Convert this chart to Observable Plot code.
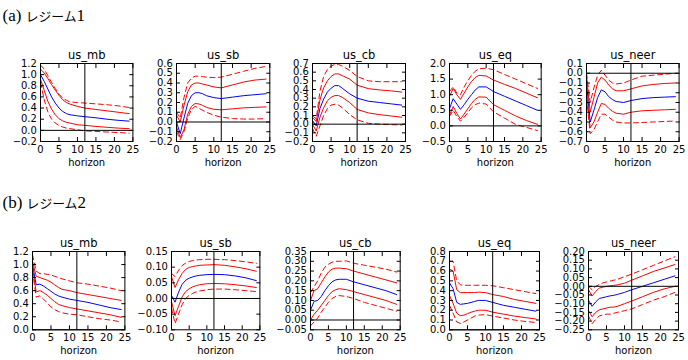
<!DOCTYPE html>
<html><head><meta charset="utf-8">
<script src="https://cdn.jsdelivr.net/npm/d3@7"></script>
<script src="https://cdn.jsdelivr.net/npm/@observablehq/plot@0.6"></script>
<style>
body{margin:0;background:#fff;}
#root{position:relative;width:688px;height:360px;overflow:hidden;background:#fff;}
#root svg{position:absolute;overflow:visible;}
</style></head><body>
<div id="root"></div>
<script>
// ---------- data ----------
const horizons = [0,1,2,3,4,5,6,7,8,10,12,15,18,21,24];
const xTicks = [0,5,10,15,20,25];
const shockH = 12;
const varNames = ["us_mb","us_sb","us_cb","us_eq","us_neer"];
const sectionTitles = ["(a) ", "レジーム", "1", "(b) ", "レジーム", "2"];

// Regime 1
const r1_mb_med   = [1.00,0.88,0.74,0.60,0.49,0.40,0.34,0.30,0.28,0.26,0.245,0.225,0.20,0.18,0.165];
const r1_mb_inHi  = [1.10,1.03,0.93,0.82,0.72,0.63,0.55,0.50,0.47,0.43,0.40,0.375,0.35,0.325,0.30];
const r1_mb_inLo  = [0.92,0.72,0.52,0.38,0.28,0.21,0.17,0.145,0.13,0.10,0.09,0.07,0.055,0.04,0.03];
const r1_mb_outHi = [1.17,1.10,0.98,0.86,0.75,0.65,0.58,0.54,0.51,0.50,0.49,0.475,0.46,0.44,0.41];
const r1_mb_outLo = [0.86,0.55,0.33,0.20,0.13,0.09,0.06,0.04,0.03,0.01,-0.01,-0.02,-0.03,-0.04,-0.05];
const r1_mb_yTicks = [-0.2,0,0.2,0.4,0.6,0.8,1.0,1.2];

const r1_sb_med   = [0.00,-0.12,0.04,0.19,0.27,0.30,0.30,0.29,0.27,0.25,0.24,0.255,0.27,0.28,0.29];
const r1_sb_inHi  = [0.07,0.00,0.17,0.31,0.38,0.40,0.40,0.39,0.38,0.36,0.35,0.38,0.41,0.43,0.44];
const r1_sb_inLo  = [-0.05,-0.16,-0.08,0.08,0.16,0.19,0.185,0.17,0.15,0.13,0.125,0.135,0.145,0.15,0.155];
const r1_sb_outHi = [0.10,0.04,0.25,0.40,0.45,0.47,0.47,0.465,0.46,0.455,0.46,0.49,0.52,0.55,0.57];
const r1_sb_outLo = [-0.10,-0.18,-0.10,0.04,0.13,0.16,0.14,0.12,0.10,0.07,0.05,0.035,0.03,0.03,0.035];
const r1_sb_yTicks = [-0.2,-0.1,0,0.1,0.2,0.3,0.4,0.5,0.6];

const r1_cb_med   = [0.04,-0.02,0.18,0.29,0.37,0.415,0.445,0.445,0.415,0.35,0.30,0.265,0.25,0.235,0.22];
const r1_cb_inHi  = [0.08,0.03,0.28,0.42,0.50,0.55,0.58,0.58,0.56,0.52,0.45,0.41,0.395,0.385,0.37];
const r1_cb_inLo  = [0.00,-0.08,0.08,0.19,0.27,0.31,0.33,0.33,0.31,0.25,0.17,0.13,0.11,0.095,0.08];
const r1_cb_outHi = [0.10,0.06,0.38,0.55,0.63,0.67,0.69,0.69,0.67,0.62,0.55,0.50,0.49,0.49,0.49];
const r1_cb_outLo = [-0.05,-0.14,-0.02,0.10,0.18,0.22,0.23,0.22,0.19,0.11,0.05,0.01,0.00,-0.005,-0.01];
const r1_cb_yTicks = [-0.2,-0.1,0,0.1,0.2,0.3,0.4,0.5,0.6,0.7];

const r1_eq_med   = [0.55,0.87,0.70,0.53,0.68,0.85,1.00,1.15,1.25,1.25,1.10,0.95,0.80,0.65,0.50];
const r1_eq_inHi  = [0.95,1.20,1.00,0.85,1.05,1.25,1.42,1.55,1.62,1.60,1.47,1.33,1.20,1.05,0.90];
const r1_eq_inLo  = [0.35,0.62,0.40,0.22,0.38,0.55,0.72,0.85,0.93,0.92,0.68,0.50,0.32,0.17,0.05];
const r1_eq_outHi = [1.10,1.25,1.05,1.00,1.25,1.45,1.62,1.75,1.83,1.85,1.80,1.65,1.50,1.35,1.20];
const r1_eq_outLo = [0.30,0.50,0.30,0.15,0.28,0.42,0.58,0.68,0.73,0.70,0.45,0.25,0.05,-0.05,-0.15];
const r1_eq_yTicks = [-0.5,0,0.5,1.0,1.5,2.0];

const r1_neer_med   = [-0.10,-0.50,-0.38,-0.25,-0.17,-0.19,-0.24,-0.27,-0.29,-0.30,-0.28,-0.26,-0.25,-0.245,-0.24];
const r1_neer_inHi  = [-0.02,-0.40,-0.25,-0.10,-0.04,-0.07,-0.12,-0.16,-0.18,-0.18,-0.16,-0.13,-0.115,-0.105,-0.10];
const r1_neer_inLo  = [-0.20,-0.56,-0.50,-0.40,-0.31,-0.32,-0.36,-0.39,-0.41,-0.42,-0.40,-0.385,-0.38,-0.375,-0.37];
const r1_neer_outHi = [0.00,-0.30,-0.15,-0.02,0.03,-0.02,-0.07,-0.10,-0.11,-0.10,-0.07,-0.03,-0.02,-0.01,0.00];
const r1_neer_outLo = [-0.25,-0.62,-0.58,-0.50,-0.42,-0.42,-0.45,-0.48,-0.50,-0.51,-0.51,-0.505,-0.50,-0.495,-0.49];
const r1_neer_yTicks = [-0.7,-0.6,-0.5,-0.4,-0.3,-0.2,-0.1,0,0.1];

// Regime 2
const r2_mb_med   = [1.00,0.69,0.70,0.67,0.63,0.59,0.55,0.52,0.50,0.47,0.45,0.42,0.38,0.34,0.31];
const r2_mb_inHi  = [1.05,0.82,0.80,0.78,0.76,0.73,0.69,0.65,0.62,0.60,0.57,0.54,0.51,0.48,0.45];
const r2_mb_inLo  = [0.95,0.58,0.60,0.57,0.53,0.48,0.43,0.39,0.37,0.34,0.32,0.29,0.26,0.23,0.19];
const r2_mb_outHi = [1.15,0.90,0.86,0.86,0.85,0.84,0.82,0.80,0.78,0.75,0.72,0.70,0.67,0.64,0.60];
const r2_mb_outLo = [0.90,0.50,0.52,0.47,0.41,0.35,0.31,0.28,0.26,0.24,0.23,0.20,0.17,0.15,0.12];
const r2_mb_yTicks = [0,0.2,0.4,0.6,0.8,1.0,1.2];

const r2_sb_med   = [0.010,-0.012,0.020,0.045,0.058,0.065,0.069,0.072,0.074,0.076,0.077,0.076,0.072,0.066,0.057];
const r2_sb_inHi  = [0.070,0.035,0.060,0.080,0.093,0.099,0.102,0.104,0.106,0.107,0.108,0.106,0.101,0.095,0.087];
const r2_sb_inLo  = [-0.010,-0.055,-0.025,0.005,0.022,0.031,0.037,0.041,0.044,0.047,0.048,0.047,0.044,0.040,0.035];
const r2_sb_outHi = [0.080,0.070,0.090,0.105,0.113,0.118,0.121,0.123,0.124,0.125,0.125,0.124,0.121,0.117,0.112];
const r2_sb_outLo = [-0.030,-0.080,-0.050,-0.020,0.000,0.010,0.016,0.021,0.024,0.028,0.030,0.030,0.028,0.025,0.022];
const r2_sb_yTicks = [-0.10,-0.05,0,0.05,0.10,0.15];

const r2_cb_med   = [0.050,0.095,0.100,0.120,0.150,0.175,0.195,0.205,0.208,0.208,0.195,0.180,0.165,0.150,0.130];
const r2_cb_inHi  = [0.100,0.150,0.160,0.190,0.220,0.245,0.260,0.265,0.265,0.262,0.250,0.235,0.220,0.205,0.190];
const r2_cb_inLo  = [0.000,0.030,0.050,0.075,0.100,0.125,0.145,0.155,0.160,0.155,0.145,0.130,0.115,0.100,0.080];
const r2_cb_outHi = [0.140,0.170,0.200,0.240,0.270,0.285,0.295,0.300,0.300,0.302,0.290,0.280,0.270,0.260,0.245];
const r2_cb_outLo = [-0.030,-0.010,0.010,0.040,0.065,0.090,0.110,0.120,0.125,0.120,0.110,0.090,0.075,0.060,0.045];
const r2_cb_yTicks = [-0.05,0,0.05,0.10,0.15,0.20,0.25,0.30,0.35];

const r2_eq_med   = [0.48,0.42,0.28,0.26,0.265,0.27,0.28,0.29,0.30,0.30,0.28,0.25,0.23,0.21,0.19];
const r2_eq_inHi  = [0.62,0.60,0.41,0.38,0.38,0.38,0.38,0.38,0.385,0.38,0.36,0.34,0.31,0.29,0.27];
const r2_eq_inLo  = [0.35,0.27,0.17,0.145,0.15,0.165,0.18,0.19,0.20,0.20,0.18,0.16,0.14,0.125,0.11];
const r2_eq_outHi = [0.70,0.70,0.50,0.46,0.455,0.455,0.455,0.455,0.455,0.455,0.45,0.43,0.41,0.39,0.37];
const r2_eq_outLo = [0.25,0.17,0.08,0.065,0.08,0.10,0.12,0.14,0.15,0.155,0.14,0.12,0.10,0.085,0.075];
const r2_eq_yTicks = [0,0.1,0.2,0.3,0.4,0.5,0.6,0.7,0.8];

const r2_neer_med   = [-0.080,-0.115,-0.090,-0.070,-0.065,-0.060,-0.055,-0.052,-0.047,-0.035,-0.020,0.000,0.020,0.040,0.060];
const r2_neer_inHi  = [-0.020,-0.055,-0.030,-0.010,-0.005,0.000,0.003,0.005,0.008,0.018,0.035,0.060,0.085,0.105,0.125];
const r2_neer_inLo  = [-0.140,-0.175,-0.150,-0.135,-0.130,-0.125,-0.120,-0.120,-0.115,-0.100,-0.085,-0.060,-0.035,-0.015,0.000];
const r2_neer_outHi = [0.000,-0.020,0.000,0.010,0.020,0.025,0.030,0.035,0.040,0.055,0.070,0.095,0.120,0.145,0.170];
const r2_neer_outLo = [-0.170,-0.215,-0.190,-0.170,-0.165,-0.160,-0.160,-0.155,-0.150,-0.140,-0.130,-0.105,-0.080,-0.060,-0.035];
const r2_neer_yTicks = [-0.25,-0.20,-0.15,-0.10,-0.05,0,0.05,0.10,0.15,0.20];

// ---------- layout (frame boxes in page px) ----------
const rows = [
  {top: 62.7, bottom: 140.7, frames: [[40.3,132.7],[176,269.3],[312.3,405.3],[449,540.7],[585.7,678.3]]},
  {top: 250.7, bottom: 329, frames: [[32.3,124.7],[171.3,259.7],[310,399.7],[449,539],[588.3,678.3]]}
];
const panels = [
  [
    {med:r1_mb_med,inHi:r1_mb_inHi,inLo:r1_mb_inLo,outHi:r1_mb_outHi,outLo:r1_mb_outLo,yTicks:r1_mb_yTicks,fmt:".1f"},
    {med:r1_sb_med,inHi:r1_sb_inHi,inLo:r1_sb_inLo,outHi:r1_sb_outHi,outLo:r1_sb_outLo,yTicks:r1_sb_yTicks,fmt:".1f"},
    {med:r1_cb_med,inHi:r1_cb_inHi,inLo:r1_cb_inLo,outHi:r1_cb_outHi,outLo:r1_cb_outLo,yTicks:r1_cb_yTicks,fmt:".1f"},
    {med:r1_eq_med,inHi:r1_eq_inHi,inLo:r1_eq_inLo,outHi:r1_eq_outHi,outLo:r1_eq_outLo,yTicks:r1_eq_yTicks,fmt:".1f"},
    {med:r1_neer_med,inHi:r1_neer_inHi,inLo:r1_neer_inLo,outHi:r1_neer_outHi,outLo:r1_neer_outLo,yTicks:r1_neer_yTicks,fmt:".1f"}
  ],
  [
    {med:r2_mb_med,inHi:r2_mb_inHi,inLo:r2_mb_inLo,outHi:r2_mb_outHi,outLo:r2_mb_outLo,yTicks:r2_mb_yTicks,fmt:".1f"},
    {med:r2_sb_med,inHi:r2_sb_inHi,inLo:r2_sb_inLo,outHi:r2_sb_outHi,outLo:r2_sb_outLo,yTicks:r2_sb_yTicks,fmt:".2f"},
    {med:r2_cb_med,inHi:r2_cb_inHi,inLo:r2_cb_inLo,outHi:r2_cb_outHi,outLo:r2_cb_outLo,yTicks:r2_cb_yTicks,fmt:".2f"},
    {med:r2_eq_med,inHi:r2_eq_inHi,inLo:r2_eq_inLo,outHi:r2_eq_outHi,outLo:r2_eq_outLo,yTicks:r2_eq_yTicks,fmt:".1f"},
    {med:r2_neer_med,inHi:r2_neer_inHi,inLo:r2_neer_inLo,outHi:r2_neer_outHi,outLo:r2_neer_outLo,yTicks:r2_neer_yTicks,fmt:".2f"}
  ]
];

const root = document.getElementById("root");
const rowsOf = arr => horizons.map((h, i) => ({h, v: arr[i]}));
const ML = 46, MR = 6, MT = 24, MB = 32;
const font = "'DejaVu Sans', sans-serif";

rows.forEach((row, r) => {
  row.frames.forEach(([fl, fr], c) => {
    const p = panels[r][c];
    const fw = fr - fl, fh = row.bottom - row.top;
    const yDomain = [p.yTicks[0], p.yTicks[p.yTicks.length - 1]];
    const fmt = d3.format(p.fmt);
    const dash = {stroke: "#ff0000", strokeWidth: 1, strokeDasharray: "5,3.5"};
    const solid = {stroke: "#ff0000", strokeWidth: 1};
    const svg = Plot.plot({
      width: ML + fw + MR,
      height: MT + fh + MB,
      marginLeft: ML, marginRight: MR, marginTop: MT, marginBottom: MB,
      style: {fontFamily: font, fontSize: "10px", color: "black", background: "none", overflow: "visible"},
      x: {domain: [0, 25]},
      y: {domain: yDomain},
      marks: [
        Plot.line(rowsOf(p.med), {x: "h", y: "v", stroke: "#0000ff", strokeWidth: 1, clip: true}),
        Plot.line(rowsOf(p.inHi), {x: "h", y: "v", ...solid, clip: true}),
        Plot.line(rowsOf(p.inLo), {x: "h", y: "v", ...solid, clip: true}),
        Plot.line(rowsOf(p.outHi), {x: "h", y: "v", ...dash, clip: true}),
        Plot.line(rowsOf(p.outLo), {x: "h", y: "v", ...dash, clip: true}),
        Plot.ruleY([0], {stroke: "black", strokeWidth: 1}),
        Plot.ruleX([shockH], {stroke: "black", strokeWidth: 1}),
        Plot.frame({stroke: "black", strokeWidth: 1}),
        Plot.axisX(xTicks, {anchor: "bottom", tickSize: -4, tickPadding: 8, tickFormat: d => String(d), label: null, fontSize: 10}),
        Plot.axisX(xTicks, {anchor: "top", tickSize: -4, fill: "none", label: null}),
        Plot.axisY(p.yTicks, {anchor: "left", tickSize: -4, tickPadding: 7.6, tickFormat: fmt, label: null, fontSize: 10}),
        Plot.axisY(p.yTicks, {anchor: "right", tickSize: -4, fill: "none", label: null}),
        Plot.text([varNames[c]], {frameAnchor: "top", lineAnchor: "middle", dy: -8.5, fontSize: 11.5}),
        Plot.text(["horizon"], {frameAnchor: "bottom", lineAnchor: "middle", dy: 21, fontSize: 10})
      ]
    });
    svg.style.left = (fl - ML) + "px";
    svg.style.top = (row.top - MT) + "px";
    root.appendChild(svg);
  });
});

// section headings
const ns = "http://www.w3.org/2000/svg";
const head = document.createElementNS(ns, "svg");
head.setAttribute("width", 688); head.setAttribute("height", 40);
head.style.left = "0px"; head.style.top = "0px";
const head2 = document.createElementNS(ns, "svg");
head2.setAttribute("width", 688); head2.setAttribute("height", 40);
head2.style.left = "0px"; head2.style.top = "187px";
[[head, 20.5, 0], [head2, 20.5, 3]].forEach(([g, y, k]) => {
  const t = document.createElementNS(ns, "text");
  t.setAttribute("x", 2.5); t.setAttribute("y", y);
  const parts = [
    [sectionTitles[k], "'Liberation Serif', serif", 17],
    [sectionTitles[k + 1], "'Noto Sans CJK JP', sans-serif", 12.8],
    [sectionTitles[k + 2], "'Liberation Serif', serif", 17]
  ];
  parts.forEach(([s, f, sz]) => {
    const sp = document.createElementNS(ns, "tspan");
    sp.setAttribute("font-family", f); sp.setAttribute("font-size", sz);
    sp.textContent = s;
    t.appendChild(sp);
  });
  t.setAttribute("fill", "black");
  t.style.whiteSpace = "pre";
  g.appendChild(t);
  root.appendChild(g);
});
</script>
</body></html>
